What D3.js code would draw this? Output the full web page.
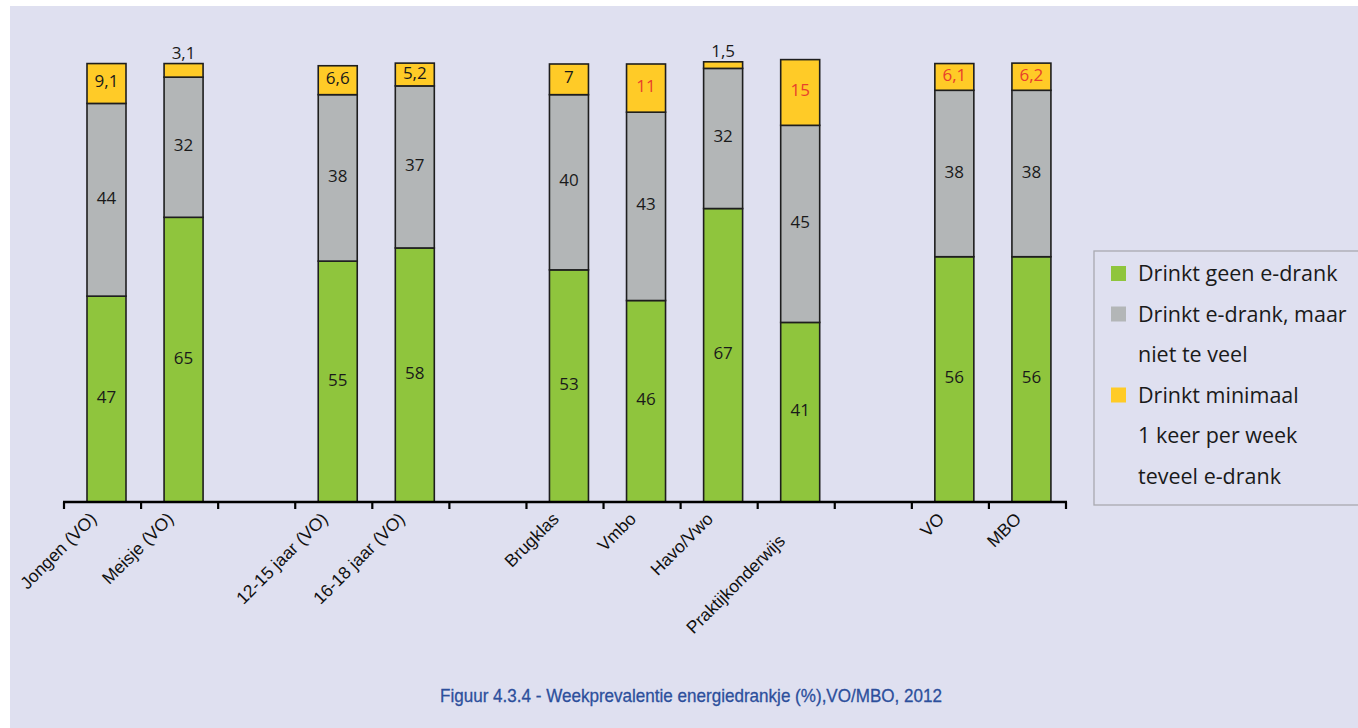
<!DOCTYPE html>
<html>
<head>
<meta charset="utf-8">
<script src="https://cdn.jsdelivr.net/npm/d3@7"></script>
<style>
  html, body { margin: 0; padding: 0; background: #ffffff; }
  svg { display: block; }
</style>
</head>
<body>
<svg id="chart" width="1358" height="728"></svg>
<script>
// Category slots along the axis; empty strings are spacer slots between groups
const categories = ["Jongen (VO)", "Meisje (VO)", "", "12-15 jaar (VO)", "16-18 jaar (VO)", "",
  "Brugklas", "Vmbo", "Havo/Vwo", "Praktijkonderwijs", "", "VO", "MBO"];

// Share (%) per series, one value per category slot (null for spacer slots)
const geenValues     = [47, 65, null, 55, 58, null, 53, 46, 67, 41, null, 56, 56];
const nietVeelValues = [44, 32, null, 38, 37, null, 40, 43, 32, 45, null, 38, 38];
const teveelValues   = [9.1, 3.1, null, 6.6, 5.2, null, 7, 11, 1.5, 15, null, 6.1, 6.2];

// Labels printed in red (significant difference)
const redLabels = ["Vmbo", "Praktijkonderwijs", "VO", "MBO"];

const legendLines = [["Drinkt geen e-drank"], ["Drinkt e-drank, maar", "niet te veel"],
  ["Drinkt minimaal", "1 keer per week", "teveel e-drank"]];
const colors = ["#8fc53d", "#b3b6b7", "#ffcb27"];

const title = "Figuur 4.3.4 - Weekprevalentie energiedrankje (%),VO/MBO, 2012";

const svg = d3.select("#chart");

// Lavender panel
svg.append("rect").attr("x", 10).attr("y", 6).attr("width", 1348).attr("height", 722)
  .attr("fill", "#dfe0f0");

const x = d3.scaleBand().domain(d3.range(categories.length)).range([64, 1066]).padding(0);
const y = d3.scaleLinear().domain([0, 100]).range([502, 64]);

const barOffset = 23, barWidth = 39;

const rows = categories.map((c, i) => ({
  cat: c, i,
  vals: [geenValues[i], nietVeelValues[i], teveelValues[i]]
})).filter(d => d.cat !== "");

const stacked = [];
rows.forEach(r => {
  let acc = 0;
  r.vals.forEach((v, k) => {
    stacked.push({ cat: r.cat, i: r.i, k, v, y0: acc, y1: acc + v });
    acc += v;
  });
});

const g = svg.append("g");

g.selectAll("rect.seg").data(stacked).join("rect")
  .attr("class", "seg")
  .attr("x", d => x(d.i) + barOffset)
  .attr("width", barWidth)
  .attr("y", d => y(d.y1))
  .attr("height", d => y(d.y0) - y(d.y1))
  .attr("fill", d => colors[d.k])
  .attr("stroke", "#1e1e1e")
  .attr("stroke-width", 1.6);

const fmt = v => String(v).replace(".", ",");

// Value labels: inside the segment, or above the bar when the segment is too thin
g.selectAll("text.val").data(stacked).join("text")
  .attr("class", "val")
  .attr("x", d => x(d.i) + barOffset + barWidth / 2)
  .attr("y", d => {
    const h = y(d.y0) - y(d.y1);
    return h < 14 ? y(d.y1) - 5 : (y(d.y0) + y(d.y1)) / 2 + 4;
  })
  .attr("text-anchor", "middle")
  .attr("font-family", "'Open Sans', 'Noto Sans', sans-serif")
  .attr("font-size", 17)
  .attr("fill", d => (d.k === 2 && redLabels.includes(d.cat)) ? "#e8412c" : "#1a1a1a")
  .text(d => fmt(d.v));

// Axis with ticks on slot boundaries
const axisY = 502;
const tickXs = d3.range(categories.length + 1).map(i => i < categories.length ? x(i) : x.range()[1]);
g.append("line").attr("x1", 63).attr("x2", 1067).attr("y1", axisY).attr("y2", axisY)
  .attr("stroke", "#000").attr("stroke-width", 2.6);
g.selectAll("line.tick").data(tickXs).join("line")
  .attr("class", "tick")
  .attr("x1", d => d).attr("x2", d => d)
  .attr("y1", axisY).attr("y2", axisY + 7)
  .attr("stroke", "#000").attr("stroke-width", 2.2);

// Rotated category labels; the longest label is staggered one step lower
g.selectAll("text.cat").data(rows).join("text")
  .attr("class", "cat")
  .attr("transform", d => {
    const long = d.cat.length > 16;
    const cx = x(d.i) + x.bandwidth() / 2 + (long ? -10 : -5);
    const cy = axisY + (long ? 40 : 18);
    return `translate(${cx},${cy}) rotate(-45)`;
  })
  .attr("text-anchor", "end")
  .attr("font-family", "'Liberation Sans', Arial, sans-serif")
  .attr("font-size", 17.5)
  .attr("fill", "#111")
  .text(d => d.cat);

// Legend
const lg = svg.append("g");
lg.append("rect").attr("x", 1094).attr("y", 251).attr("width", 270).attr("height", 254)
  .attr("fill", "none").attr("stroke", "#a9a9b0").attr("stroke-width", 1.3);
let lineY = 273;
legendLines.forEach((lines, k) => {
  lg.append("rect").attr("x", 1111).attr("y", lineY - 7).attr("width", 15).attr("height", 15)
    .attr("fill", colors[k]);
  lines.forEach(t => {
    lg.append("text").attr("x", 1138).attr("y", lineY + 8)
      .attr("font-family", "'Open Sans', 'Noto Sans', sans-serif")
      .attr("font-size", 21.5)
      .attr("fill", "#1a1a1a")
      .text(t);
    lineY += 40.5;
  });
});

// Caption
svg.append("text").attr("x", 440).attr("y", 702)
  .attr("font-family", "'Liberation Sans', sans-serif")
  .attr("font-size", 19)
  .attr("textLength", 502)
  .attr("lengthAdjust", "spacingAndGlyphs")
  .attr("fill", "#2c4f9c")
  .attr("stroke", "#2c4f9c")
  .attr("stroke-width", 0.3)
  .text(title);
</script>
</body>
</html>
